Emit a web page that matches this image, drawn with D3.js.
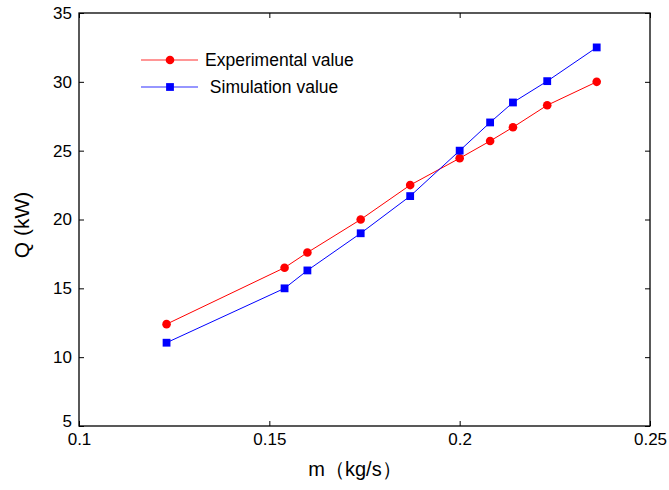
<!DOCTYPE html>
<html>
<head>
<meta charset="utf-8">
<script src="https://cdn.jsdelivr.net/npm/d3@7"></script>
<style>
  body { margin: 0; background: #fff; }
  text { font-family: Arial, "Liberation Sans", sans-serif; fill: #000; }
</style>
</head>
<body>
<div id="chart"></div>
<script>
// data
var massFlow = [0.123, 0.154, 0.160, 0.174, 0.187, 0.200, 0.208, 0.214, 0.223, 0.236];
var experimental = [12.4, 16.5, 17.6, 20.0, 22.5, 24.45, 25.7, 26.7, 28.3, 30.0];
var simulation = [11.05, 15.0, 16.3, 19.0, 21.7, 25.0, 27.05, 28.5, 30.05, 32.5];
var xTicks = [0.1, 0.15, 0.2, 0.25];
var yTicks = [5, 10, 15, 20, 25, 30, 35];
var seriesNames = ["Experimental value", " Simulation value"];

var W = 669, H = 490;
var margin = { top: 13, right: 19, bottom: 64, left: 79 },
    width = W - margin.left - margin.right,
    height = H - margin.top - margin.bottom;

var svg = d3.select("#chart")
    .append("svg")
    .attr("width", W)
    .attr("height", H)
    .append("g")
    .attr("transform", "translate(" + margin.left + "," + margin.top + ")");

var x = d3.scaleLinear().domain([0.1, 0.25]).range([0, width]);
var y = d3.scaleLinear().domain([5, 35]).range([height, 0]);

// box
svg.append("rect")
    .attr("width", width).attr("height", height)
    .attr("fill", "none").attr("stroke", "#000").attr("stroke-width", 1.3);

// axes with inward ticks
var fmtX = function (d) { return d3.format("")(d); };
svg.append("g")
    .attr("transform", "translate(0," + height + ")")
    .call(d3.axisBottom(x).tickValues(xTicks).tickSize(-5).tickPadding(7).tickFormat(fmtX));
svg.append("g")
    .call(d3.axisTop(x).tickValues(xTicks).tickSize(-5).tickFormat(""));
var yAxis = svg.append("g")
    .call(d3.axisLeft(y).tickValues(yTicks).tickSize(-5).tickPadding(7));
svg.append("g")
    .attr("transform", "translate(" + width + ",0)")
    .call(d3.axisRight(y).tickValues(yTicks).tickSize(-5).tickFormat(""));

svg.selectAll(".domain").remove();
svg.selectAll(".tick line").attr("stroke", "#000");
svg.selectAll(".tick text").style("font-size", "17px").attr("fill", "#000");
// the "5" label sits a bit higher in the original
yAxis.selectAll(".tick text").filter(function (d) { return d === 5; }).attr("dy", "0.05em");

// series
var series = [
    { name: seriesNames[0], values: experimental, color: "#ff0000", shape: "circle" },
    { name: seriesNames[1], values: simulation, color: "#0000ff", shape: "square" }
];

var line = d3.line()
    .x(function (d) { return x(d[0]); })
    .y(function (d) { return y(d[1]); });

function drawMarker(g, shape, color) {
    if (shape === "circle") {
        g.append("circle").attr("r", 4.3).attr("fill", color);
    } else {
        g.append("rect").attr("x", -3.9).attr("y", -3.9).attr("width", 7.8).attr("height", 7.8).attr("fill", color);
    }
}

series.forEach(function (s) {
    var pts = massFlow.map(function (m, i) { return [m, s.values[i]]; });
    svg.append("path")
        .datum(pts)
        .attr("fill", "none")
        .attr("stroke", s.color)
        .attr("stroke-width", 1)
        .attr("d", line);
    pts.forEach(function (p) {
        var g = svg.append("g").attr("transform", "translate(" + x(p[0]) + "," + y(p[1]) + ")");
        drawMarker(g, s.shape, s.color);
    });
});

// legend
var legend = svg.append("g").attr("transform", "translate(" + (141 - margin.left) + "," + (60 - margin.top) + ")");
series.forEach(function (s, i) {
    var g = legend.append("g").attr("transform", "translate(0," + (i * 27) + ")");
    g.append("line").attr("x1", 0).attr("x2", 57).attr("y1", 0).attr("y2", 0)
        .attr("stroke", s.color).attr("stroke-opacity", 0.55).attr("stroke-width", 1.3);
    var m = g.append("g").attr("transform", "translate(29,0)");
    drawMarker(m, s.shape, s.color);
    g.append("text").attr("x", 64).attr("y", 0).attr("dy", "0.35em")
        .style("font-size", "17.5px").style("white-space", "pre").attr("xml:space", "preserve")
        .text(s.name);
});

// axis titles
svg.append("text")
    .attr("transform", "translate(" + (22 - margin.left) + "," + (225 - margin.top) + ") rotate(-90)")
    .attr("text-anchor", "middle").attr("dy", "0.35em")
    .style("font-size", "21px")
    .text("Q (kW)");

svg.append("text")
    .attr("x", 355 - margin.left).attr("y", 469 - margin.top)
    .attr("text-anchor", "middle").attr("dy", "0.35em")
    .style("font-size", "20px")
    .text("m\uFF08kg/s\uFF09");
</script>
</body>
</html>
